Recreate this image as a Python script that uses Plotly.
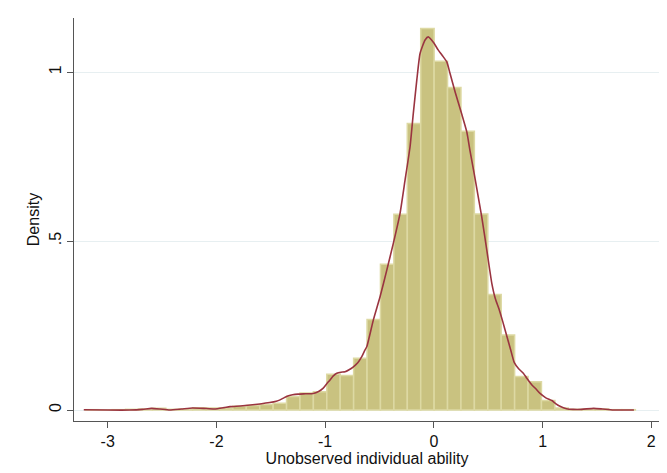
import plotly.graph_objects as go

# ---- data ----
bin_start = -3.206
bin_width = 0.1234
bin_heights = [
    0.001, 0.000, 0.001, 0.002, 0.003, 0.005, 0.002, 0.003, 0.007, 0.006,
    0.006, 0.011, 0.013, 0.016, 0.020, 0.040, 0.050, 0.054, 0.106, 0.102,
    0.153, 0.268, 0.431, 0.579, 0.848, 1.129, 1.032, 0.954, 0.825, 0.580,
    0.342, 0.222, 0.099, 0.084, 0.028, 0.006, 0.002, 0.002, 0.003, 0.001,
    0.001,
]

kde_x = [
    -3.22, -3.00, -2.80, -2.68, -2.60, -2.52, -2.43, -2.32, -2.22, -2.12,
    -2.02, -1.93, -1.875, -1.78, -1.69, -1.60, -1.51, -1.45, -1.415, -1.38,
    -1.35, -1.30, -1.25, -1.18, -1.11, -1.06, -1.02, -0.985, -0.955, -0.925,
    -0.893, -0.855, -0.817, -0.78, -0.74, -0.70, -0.663, -0.633, -0.617, -0.557,
    -0.495, -0.433, -0.373, -0.311, -0.265, -0.219, -0.189, -0.157, -0.127, -0.081,
    -0.051, -0.005, 0.041, 0.087, 0.119, 0.149, 0.195, 0.257, 0.303, 0.333,
    0.365, 0.395, 0.44, 0.487, 0.533, 0.565, 0.60, 0.635, 0.67, 0.705,
    0.74, 0.78, 0.823, 0.855, 0.90, 0.94, 0.977, 1.03, 1.085, 1.12,
    1.16, 1.22, 1.28, 1.36, 1.47, 1.55, 1.65, 1.75, 1.84,
]
kde_y = [
    0.001, 0.000, 0.000, 0.002, 0.005, 0.003, 0.000, 0.003, 0.006, 0.005,
    0.003, 0.007, 0.010, 0.012, 0.015, 0.018, 0.022, 0.026, 0.030, 0.036,
    0.041, 0.045, 0.047, 0.048, 0.049, 0.055, 0.064, 0.078, 0.089, 0.101,
    0.109, 0.112, 0.113, 0.119, 0.128, 0.140, 0.158, 0.178, 0.187, 0.266,
    0.335, 0.414, 0.493, 0.582, 0.680, 0.779, 0.878, 0.976, 1.055, 1.095,
    1.104, 1.088, 1.065, 1.045, 1.030, 0.996, 0.942, 0.875, 0.823, 0.766,
    0.710, 0.655, 0.572, 0.473, 0.375, 0.330, 0.298, 0.260, 0.220, 0.180,
    0.140, 0.122, 0.109, 0.094, 0.075, 0.062, 0.049, 0.036, 0.028, 0.019,
    0.011, 0.004, 0.002, 0.002, 0.005, 0.003, 0.000, 0.000, 0.000,
]

x_ticks = [-3, -2, -1, 0, 1, 2]
x_tick_labels = ["-3", "-2", "-1", "0", "1", "2"]
y_ticks = [0, 0.5, 1]
y_tick_labels = ["0", ".5", "1"]

bin_centers = [bin_start + bin_width * (k + 0.5) for k in range(len(bin_heights))]

fig = go.Figure()
fig.add_trace(go.Bar(
    x=bin_centers, y=bin_heights, width=bin_width,
    marker=dict(color="#c9c280", line=dict(color="#ddd9a3", width=1.5)),
    hoverinfo="x+y", showlegend=False,
))
fig.add_trace(go.Scatter(
    x=kde_x, y=kde_y, mode="lines",
    line=dict(color="#9a3440", width=1.6, shape="spline", smoothing=0.5),
    showlegend=False,
))

font = "Liberation Sans, Arial, sans-serif"
fig.update_layout(
    width=667, height=473,
    margin=dict(l=66, r=15, t=10, b=60),
    paper_bgcolor="white", plot_bgcolor="white",
    font=dict(family=font, size=16, color="#111"),
    xaxis=dict(
        range=[-3.31, 2.08], tickmode="array", tickvals=x_ticks, ticktext=x_tick_labels,
        ticks="outside", ticklen=6, tickcolor="#555", showline=True, linecolor="#555",
        linewidth=1, showgrid=False, zeroline=False,
        title=dict(text="Unobserved individual ability", standoff=3, font=dict(size=16)),
        tickfont=dict(size=16),
    ),
    yaxis=dict(
        range=[-0.0325, 1.16], tickmode="array", tickvals=y_ticks, ticktext=y_tick_labels,
        tickangle=-90, ticks="outside", ticklen=6, tickcolor="#555", showline=True,
        linecolor="#555", linewidth=1, showgrid=True, gridcolor="#e7eff1", gridwidth=1.3,
        zeroline=False,
        title=dict(text="Density", standoff=2, font=dict(size=16)),
        tickfont=dict(size=16),
    ),
)

fig.write_html("out.html")
